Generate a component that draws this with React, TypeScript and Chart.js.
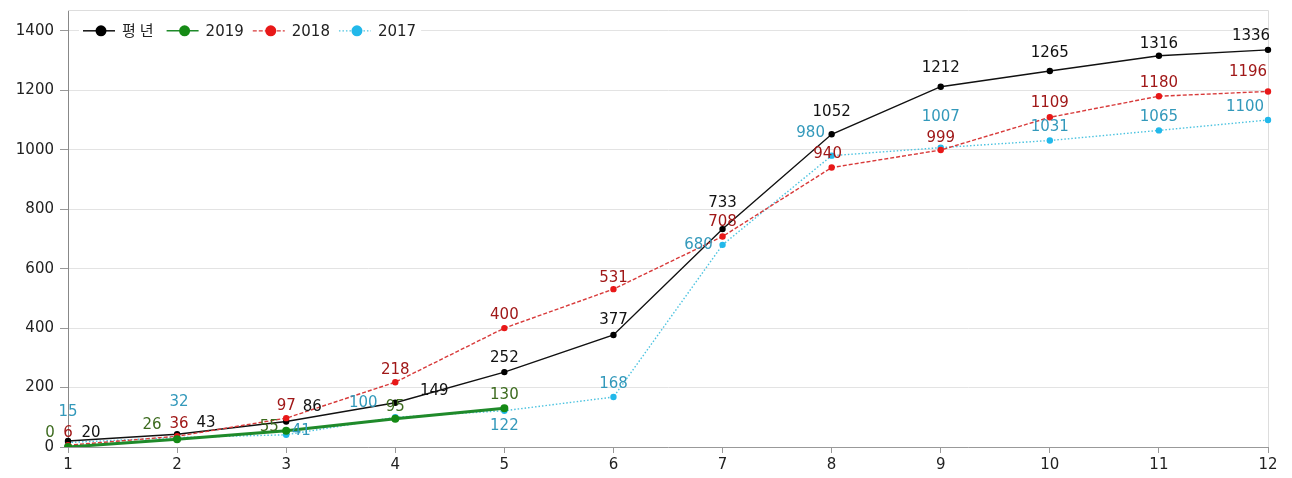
import React, { useEffect, useRef } from 'react';
import { Chart, registerables } from 'chart.js';

Chart.register(...registerables);

const FONT = '"DejaVu Sans", "Noto Sans CJK KR", sans-serif';

const months = ['1', '2', '3', '4', '5', '6', '7', '8', '9', '10', '11', '12'];
const seriesNames = ['평년', '2019', '2018', '2017'];
const normalValues = [20, 43, 86, 149, 252, 377, 733, 1052, 1212, 1265, 1316, 1336];
const values2019 = [0, 26, 55, 95, 130];
const values2018 = [6, 36, 97, 218, 400, 531, 708, 940, 999, 1109, 1180, 1196];
const values2017 = [15, 32, 41, 100, 122, 168, 680, 980, 1007, 1031, 1065, 1100];
const yTickValues = [0, 200, 400, 600, 800, 1000, 1200, 1400];

// label placement offsets (dx, dy) relative to each point – styling only
const labelOffsets: number[][][] = [
  [[23, -8], [29, -11], [26, -14], [39, -12], [0, -14], [0, -15], [0, -26], [0, -22], [0, -19], [0, -18], [0, -12], [-17, -14]],
  [[-18, -14], [-25, -14], [-17, -4], [0, -12], [0, -13]],
  [[0, -12], [2, -12], [0, -12], [0, -12], [0, -13], [0, -11], [0, -14], [-4, -13], [0, -12], [0, -14], [0, -13], [-20, -19]],
  [[0, -30], [2, -35], [15, -4], [-32, -14], [0, 15], [0, -13], [-24, 0], [-21, -23], [0, -31], [0, -13], [0, -13], [-23, -13]],
];
const labelColors = ['#111111', '#3d6b1f', '#a01818', '#3399bb'];

const insideLegend = {
  id: 'insideLegend',
  afterDraw(chart: any) {
    const ctx = chart.ctx;
    const area = chart.chartArea;
    const y = chart.scales.y.getPixelForValue(1400);
    ctx.save();
    ctx.font = `15px ${FONT}`;
    ctx.textBaseline = 'middle';
    let x = area.left + 15;
    const startX = x;
    const spacingFor = (t: string) => (/[^\x00-\x7f]/.test(t) ? '4px' : '0px');
    let total = 0;
    chart.data.datasets.forEach((ds: any) => {
      (ctx as any).letterSpacing = spacingFor(ds.label);
      total += 39 + ctx.measureText(ds.label).width + 9;
    });
    (ctx as any).letterSpacing = '0px';
    ctx.fillStyle = '#ffffff';
    ctx.fillRect(startX - 4, y - 10, total, 20);
    chart.data.datasets.forEach((ds: any) => {
      ctx.strokeStyle = ds.borderColor;
      ctx.lineWidth = ds.legendLineWidth;
      ctx.setLineDash(ds.borderDash || []);
      ctx.beginPath();
      ctx.moveTo(x, y);
      ctx.lineTo(x + 32, y);
      ctx.stroke();
      ctx.setLineDash([]);
      ctx.fillStyle = ds.pointBackgroundColor;
      ctx.beginPath();
      ctx.arc(x + 18, y, 5.5, 0, Math.PI * 2);
      ctx.fill();
      ctx.fillStyle = '#222222';
      ctx.textAlign = 'left';
      (ctx as any).letterSpacing = spacingFor(ds.label);
      ctx.fillText(ds.label, x + 39, y + 1);
      x += 39 + ctx.measureText(ds.label).width + 9;
      (ctx as any).letterSpacing = '0px';
    });
    ctx.restore();
  },
};

const pointLabels = {
  id: 'pointLabels',
  afterDatasetsDraw(chart: any) {
    const ctx = chart.ctx;
    ctx.save();
    ctx.font = `15px ${FONT}`;
    ctx.textAlign = 'center';
    ctx.textBaseline = 'middle';
    chart.data.datasets.forEach((ds: any, di: number) => {
      const meta = chart.getDatasetMeta(di);
      meta.data.forEach((pt: any, i: number) => {
        const v = ds.data[i];
        if (v === null || v === undefined) return;
        const off = (labelOffsets[di] && labelOffsets[di][i]) || [0, -13];
        ctx.fillStyle = labelColors[di];
        ctx.fillText(String(v), pt.x + off[0], pt.y + off[1]);
      });
    });
    ctx.restore();
  },
};

const frameBorder = {
  id: 'frameBorder',
  beforeDatasetsDraw(chart: any) {
    const ctx = chart.ctx;
    const a = chart.chartArea;
    ctx.save();
    ctx.strokeStyle = '#dddddd';
    ctx.lineWidth = 1;
    ctx.beginPath();
    ctx.moveTo(a.left, a.top + 0.5);
    ctx.lineTo(a.right + 0.5, a.top + 0.5);
    ctx.lineTo(a.right + 0.5, a.bottom);
    ctx.stroke();
    ctx.restore();
  },
};

export default function App() {
  const ref = useRef<HTMLCanvasElement>(null);
  useEffect(() => {
    if (!ref.current) return;
    const chart = new Chart(ref.current, {
      type: 'line',
      data: {
        labels: months,
        datasets: [
          {
            label: seriesNames[0],
            data: normalValues,
            borderColor: '#111111',
            backgroundColor: '#111111',
            pointBackgroundColor: '#000000',
            pointBorderColor: '#000000',
            borderWidth: 1.4,
            pointRadius: 2.5,
            legendLineWidth: 1.5,
            order: 2,
          } as any,
          {
            label: seriesNames[1],
            data: values2019,
            borderColor: '#1f8a2a',
            backgroundColor: '#1f8a2a',
            pointBackgroundColor: '#158a15',
            pointBorderColor: '#158a15',
            borderWidth: 3,
            pointRadius: 2.5,
            legendLineWidth: 1.5,
            order: 0,
          } as any,
          {
            label: seriesNames[2],
            data: values2018,
            borderColor: '#d83a3a',
            backgroundColor: '#d83a3a',
            pointBackgroundColor: '#e81818',
            pointBorderColor: '#e81818',
            borderWidth: 1.4,
            borderDash: [4, 2],
            pointRadius: 2.5,
            legendLineWidth: 1.3,
            order: 1,
          } as any,
          {
            label: seriesNames[3],
            data: values2017,
            borderColor: '#4cc3e0',
            backgroundColor: '#4cc3e0',
            pointBackgroundColor: '#22b8ea',
            pointBorderColor: '#22b8ea',
            borderWidth: 1.4,
            borderDash: [1.5, 2],
            pointRadius: 2.5,
            legendLineWidth: 1.3,
            order: 3,
          } as any,
        ],
      },
      options: {
        animation: false,
        responsive: true,
        maintainAspectRatio: false,
        layout: { autoPadding: false, padding: { top: 2, right: 16, left: 0, bottom: 0 } },
        plugins: {
          legend: { display: false },
          tooltip: { enabled: false },
        },
        scales: {
          x: {
            type: 'category',
            offset: false,
            grid: {
              drawOnChartArea: false,
              drawTicks: true,
              tickLength: 6,
              tickColor: '#999999',
            },
            border: { color: '#999999', width: 1 },
            ticks: {
              color: '#222222',
              font: { family: FONT, size: 15 },
              padding: 3,
              maxRotation: 0,
              autoSkip: false,
            },
            afterFit: (s: any) => {
              s.height = 23;
            },
          },
          y: {
            min: 0,
            max: 1470,
            afterBuildTicks: (s: any) => {
              s.ticks = yTickValues.map((v) => ({ value: v }));
            },
            grid: {
              color: '#e3e3e3',
              tickColor: '#999999',
              tickLength: 8,
            },
            border: { color: '#888888', width: 1 },
            ticks: {
              color: '#222222',
              font: { family: FONT, size: 15 },
              padding: 6,
              callback: (v: any) => String(v),
            },
            afterFit: (s: any) => {
              s.width = 60;
              s.paddingTop = 0;
              s.paddingBottom = 0;
            },
          },
        },
      } as any,
      plugins: [frameBorder, pointLabels, insideLegend],
    });
    return () => chart.destroy();
  }, []);
  return (
    <div style={{ width: '1276px', height: '462px', position: 'relative' }}>
      <canvas ref={ref} />
    </div>
  );
}
